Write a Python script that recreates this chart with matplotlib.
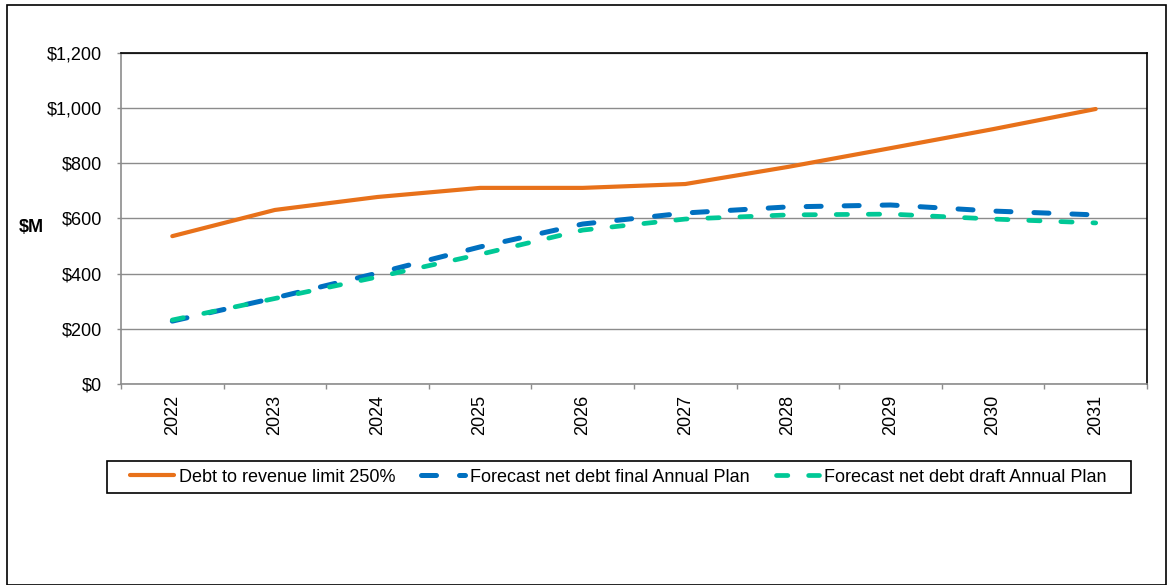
import matplotlib
matplotlib.use("Agg")
import matplotlib.pyplot as plt
from matplotlib.ticker import FuncFormatter, FixedLocator
from matplotlib.patches import Rectangle

plt.rcParams['font.family'] = ['Liberation Sans', 'DejaVu Sans']

years = ["2022", "2023", "2024", "2025", "2026", "2027", "2028", "2029", "2030", "2031"]
limit_250 = [536, 631, 678, 711, 711, 725, 787, 855, 924, 997]
final_plan = [228, 312, 402, 497, 580, 620, 642, 649, 627, 613]
draft_plan = [232, 310, 388, 470, 558, 598, 613, 616, 598, 584]
series_names = ["Debt to revenue limit 250%",
                "Forecast net debt final Annual Plan",
                "Forecast net debt draft Annual Plan"]

W, H = 1173, 585
FS = 13
fig = plt.figure(figsize=(W / 100, H / 100), dpi=100)
ax = fig.add_axes([121 / W, 1 - 384 / H, (1147 - 121) / W, (384 - 53) / H])

x = list(range(len(years)))
ax.plot(x, limit_250, color="#E8711A", lw=3.0, solid_capstyle="round", label=series_names[0], zorder=3)
ax.plot(x, final_plan, color="#0070C0", lw=3.6, dashes=(3.0, 4.6), dash_capstyle="round",
        label=series_names[1], zorder=3)
ax.plot(x, draft_plan, color="#00C896", lw=3.4, dashes=(2.4, 4.4), dash_capstyle="round",
        label=series_names[2], zorder=3)

ax.set_xlim(-0.5, len(years) - 0.5)
ax.set_ylim(0, 1200)
ax.set_yticks(range(0, 1201, 200))
ax.yaxis.set_major_formatter(FuncFormatter(lambda v, p: f"${int(v):,}"))
ax.grid(axis="y", color="#8C8C8C", lw=1.0, zorder=1)

ax.set_xticks(x)
ax.set_xticklabels(years, rotation=90, fontsize=FS)
ax.xaxis.set_minor_locator(FixedLocator([i - 0.5 for i in range(len(years) + 1)]))
ax.tick_params(axis="x", which="major", length=0, pad=8)
ax.tick_params(axis="x", which="minor", length=3.5, color="#8C8C8C", width=1)
ax.tick_params(axis="y", length=3, color="#8C8C8C", width=1, labelsize=FS, pad=10.5)

for s in ["left", "bottom"]:
    ax.spines[s].set_color("#8C8C8C")
    ax.spines[s].set_linewidth(1.2)
for s in ["top", "right"]:
    ax.spines[s].set_color("black")
    ax.spines[s].set_linewidth(1.2)

fig.text(31 / W, 1 - 228 / H, "$M", fontsize=FS, fontweight="bold", ha="center", va="center")

leg = fig.legend(loc="center", bbox_to_anchor=(618.5 / W, 1 - 477 / H),
                 ncol=3, fontsize=FS, frameon=False,
                 handlelength=2.4, handletextpad=0.28, columnspacing=1.45, borderpad=0.3,
                 borderaxespad=0)

# legend box as in the reference (wider than its content)
fig.patches.append(Rectangle((107 / W, 1 - 493 / H), (1131 - 107) / W, (493 - 461) / H,
                             transform=fig.transFigure, fill=False, edgecolor="black", lw=1.2))
# outer chart border
fig.patches.append(Rectangle((7 / W, 0), (1166 - 7) / W, 1 - 5 / H, transform=fig.transFigure,
                             fill=False, edgecolor="black", lw=1.2))

fig.savefig("out.png", dpi=100)
